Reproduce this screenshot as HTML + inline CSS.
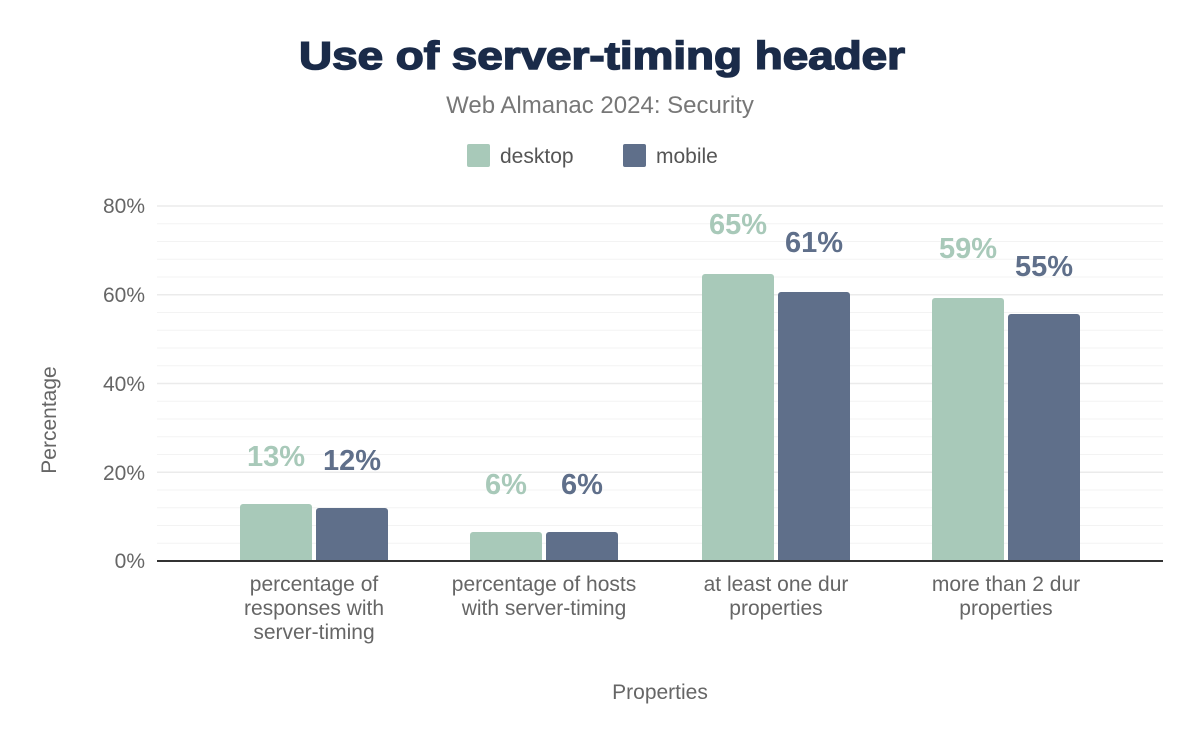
<!DOCTYPE html>
<html><head><style>
body{margin:0;background:#fff;}
svg text{font-family:"Liberation Sans",Arial,sans-serif;}
</style></head><body>
<svg width="1200" height="742" xmlns="http://www.w3.org/2000/svg">
<rect width="1200" height="742" fill="#fff"/>
<text x="299" y="69" textLength="606" lengthAdjust="spacingAndGlyphs" font-size="39" font-weight="bold" fill="#1a2b49" stroke="#1a2b49" stroke-width="1.5">Use of server-timing header</text>
<text x="600" y="113" text-anchor="middle" font-size="24" fill="#777">Web Almanac 2024: Security</text>
<rect x="467" y="144" width="23" height="23" rx="2" fill="#a8c9b9"/>
<text x="500" y="163" font-size="21" fill="#555">desktop</text>
<rect x="623" y="144" width="23" height="23" rx="2" fill="#5f6f8a"/>
<text x="656" y="163" font-size="21" fill="#555">mobile</text>
<g stroke="#f3f3f3" stroke-width="1">
<line x1="157" x2="1163" y1="543.25" y2="543.25"/><line x1="157" x2="1163" y1="525.5" y2="525.5"/><line x1="157" x2="1163" y1="507.75" y2="507.75"/><line x1="157" x2="1163" y1="490" y2="490"/>
<line x1="157" x2="1163" y1="454.5" y2="454.5"/><line x1="157" x2="1163" y1="436.75" y2="436.75"/><line x1="157" x2="1163" y1="419" y2="419"/><line x1="157" x2="1163" y1="401.25" y2="401.25"/>
<line x1="157" x2="1163" y1="365.75" y2="365.75"/><line x1="157" x2="1163" y1="348" y2="348"/><line x1="157" x2="1163" y1="330.25" y2="330.25"/><line x1="157" x2="1163" y1="312.5" y2="312.5"/>
<line x1="157" x2="1163" y1="277" y2="277"/><line x1="157" x2="1163" y1="259.25" y2="259.25"/><line x1="157" x2="1163" y1="241.5" y2="241.5"/><line x1="157" x2="1163" y1="223.75" y2="223.75"/>
</g>
<g stroke="#ebebeb" stroke-width="1.5">
<line x1="157" x2="1163" y1="472.25" y2="472.25"/><line x1="157" x2="1163" y1="383.5" y2="383.5"/><line x1="157" x2="1163" y1="294.75" y2="294.75"/><line x1="157" x2="1163" y1="206" y2="206"/>
</g>
<g font-size="21" fill="#666" text-anchor="end">
<text x="145" y="568">0%</text><text x="145" y="480">20%</text><text x="145" y="391">40%</text><text x="145" y="302">60%</text><text x="145" y="213">80%</text>
</g>
<text transform="translate(56,420) rotate(-90)" text-anchor="middle" font-size="21" fill="#666">Percentage</text>
<g>
<path d="M240,561V507a3,3 0 0 1 3,-3H309a3,3 0 0 1 3,3V561Z" fill="#a8c9b9"/>
<path d="M316,561V511a3,3 0 0 1 3,-3H385a3,3 0 0 1 3,3V561Z" fill="#5f6f8a"/>
<path d="M470,561V535a3,3 0 0 1 3,-3H539a3,3 0 0 1 3,3V561Z" fill="#a8c9b9"/>
<path d="M546,561V535a3,3 0 0 1 3,-3H615a3,3 0 0 1 3,3V561Z" fill="#5f6f8a"/>
<path d="M702,561V277a3,3 0 0 1 3,-3H771a3,3 0 0 1 3,3V561Z" fill="#a8c9b9"/>
<path d="M778,561V295a3,3 0 0 1 3,-3H847a3,3 0 0 1 3,3V561Z" fill="#5f6f8a"/>
<path d="M932,561V301a3,3 0 0 1 3,-3H1001a3,3 0 0 1 3,3V561Z" fill="#a8c9b9"/>
<path d="M1008,561V317a3,3 0 0 1 3,-3H1077a3,3 0 0 1 3,3V561Z" fill="#5f6f8a"/>
</g>
<line x1="157" x2="1163" y1="561" y2="561" stroke="#333" stroke-width="2"/>
<g font-size="29" font-weight="bold" text-anchor="middle">
<text x="276" y="466" fill="#a8c9b9">13%</text><text x="352" y="470" fill="#5f6f8a">12%</text>
<text x="506" y="494" fill="#a8c9b9">6%</text><text x="582" y="494" fill="#5f6f8a">6%</text>
<text x="738" y="234" fill="#a8c9b9">65%</text><text x="814" y="252" fill="#5f6f8a">61%</text>
<text x="968" y="258" fill="#a8c9b9">59%</text><text x="1044" y="276" fill="#5f6f8a">55%</text>
</g>
<g font-size="21" fill="#666" text-anchor="middle">
<text x="314" y="591">percentage of</text><text x="314" y="615">responses with</text><text x="314" y="639">server-timing</text>
<text x="544" y="591">percentage of hosts</text><text x="544" y="615">with server-timing</text>
<text x="776" y="591">at least one dur</text><text x="776" y="615">properties</text>
<text x="1006" y="591">more than 2 dur</text><text x="1006" y="615">properties</text>
<text x="660" y="699">Properties</text>
</g>
</svg>
</body></html>
